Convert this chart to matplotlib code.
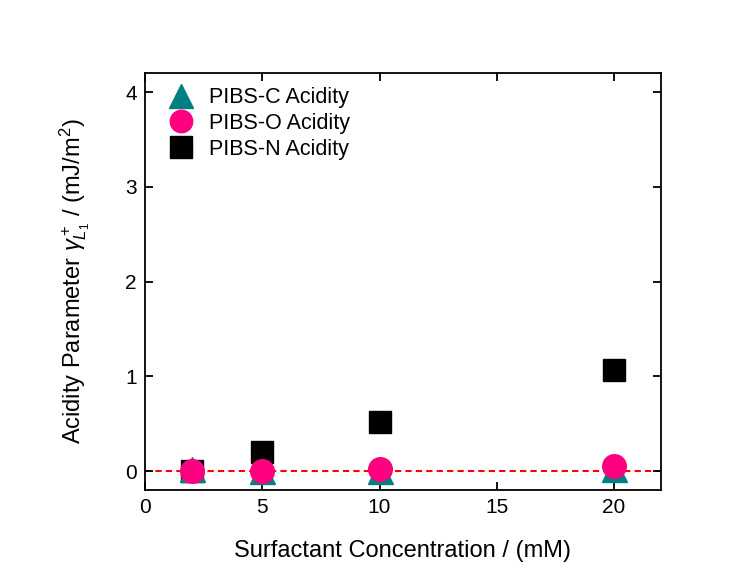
import numpy as np
import matplotlib
matplotlib.use('Agg')
import matplotlib.pyplot as plt

plt.rcParams['font.family'] = ['Liberation Sans', 'DejaVu Sans']
plt.rcParams['mathtext.fontset'] = 'custom'
plt.rcParams['mathtext.rm'] = 'Liberation Sans'
plt.rcParams['mathtext.it'] = 'Liberation Sans:italic'

# concentrations (mM)
conc = [2, 5, 10, 20]
# acidity parameter (mJ/m^2)
pibs_c = [0.02, 0.0, 0.0, 0.02]
pibs_o = [0.0, 0.0, 0.02, 0.05]
pibs_n = [0.0, 0.2, 0.52, 1.07]

fig = plt.figure(figsize=(7.56, 5.8), dpi=100)
ax = fig.add_axes([0.192, 0.155, 0.682, 0.719])

ax.axhline(0, color='red', linestyle=(0, (3, 2)), linewidth=1.5, zorder=1)
ax.plot(conc, pibs_c, linestyle='none', marker='^', markersize=18,
        color='#008080', label='PIBS-C Acidity', zorder=3)
ax.plot(conc, pibs_o, linestyle='none', marker='o', markersize=17,
        color='#ff0080', label='PIBS-O Acidity', zorder=4)
ax.plot(conc, pibs_n, linestyle='none', marker='s', markersize=16,
        color='black', label='PIBS-N Acidity', zorder=2)

ax.set_xlim(0, 22)
ax.set_ylim(-0.2, 4.2)
ax.set_xticks([0, 5, 10, 15, 20])
ax.set_yticks([0, 1, 2, 3, 4])
ax.tick_params(direction='in', top=True, right=True, length=6, width=1.3,
               labelsize=15, pad=6)
for s in ax.spines.values():
    s.set_linewidth(1.3)

ax.set_xlabel('Surfactant Concentration / (mM)', fontsize=17, labelpad=16)
ax.set_ylabel(r'Acidity Parameter $\gamma^+_{L_1}$ / (mJ/m$^2$)', fontsize=17,
              labelpad=24)

ax.legend(loc='upper left', frameon=False, fontsize=15.5, handletextpad=0.3,
          labelspacing=0.22, borderaxespad=0.25, markerscale=0.95)

plt.savefig('out.png', dpi=100)
